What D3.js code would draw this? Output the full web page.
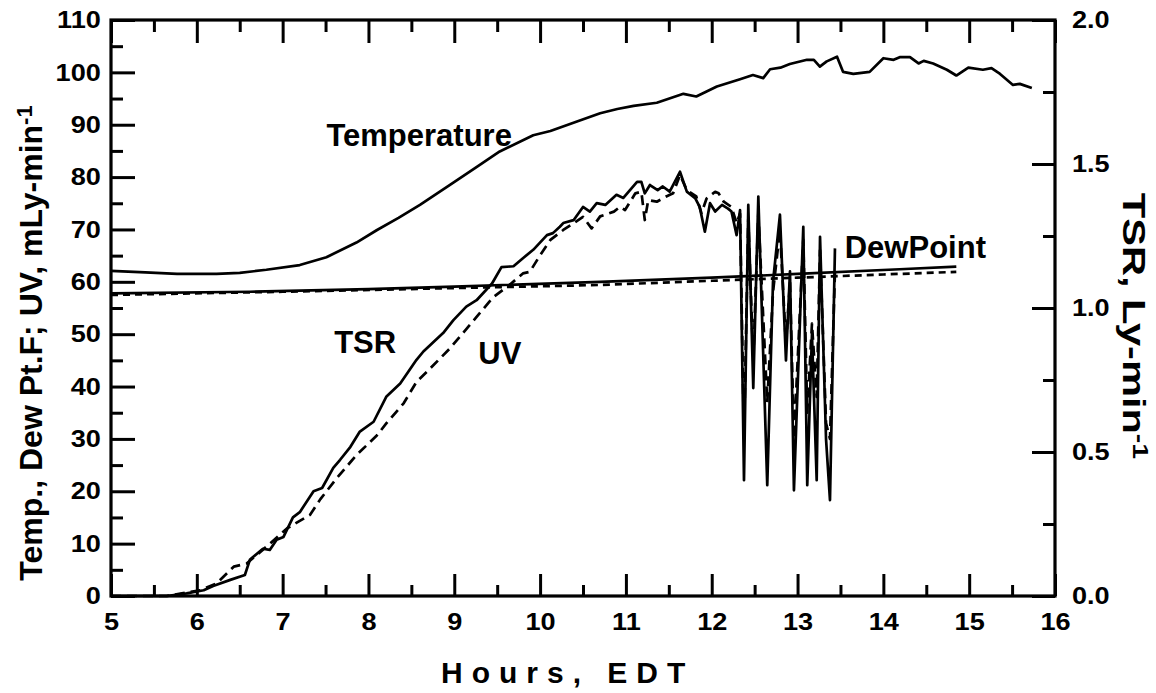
<!DOCTYPE html>
<html>
<head>
<meta charset="utf-8">
<script src="https://cdn.jsdelivr.net/npm/d3@7"></script>
<style>
  html, body { margin: 0; padding: 0; background: #fff; }
  svg { display: block; }
  text { font-family: "Liberation Sans", Arial, Helvetica, sans-serif; font-weight: bold; fill: #000; }
</style>
</head>
<body>
<svg id="chart" width="1156" height="693"></svg>
<script>
// ---------------- DATA ----------------
const xTicks = [5, 6, 7, 8, 9, 10, 11, 12, 13, 14, 15, 16];
const xMinorTicks = [5.5, 6.5, 7.5, 8.5, 9.5, 10.5, 11.5, 12.5, 13.5, 14.5, 15.5];
const yLeftTicks = [0, 10, 20, 30, 40, 50, 60, 70, 80, 90, 100, 110];
const yLeftMinor = [5, 15, 25, 35, 45, 55, 65, 75, 85, 95, 105];
const yRightTicks = [0, 0.5, 1.0, 1.5, 2.0];
const yRightMinor = [0.25, 0.75, 1.25, 1.75];

// Temperature (deg F)
const tempHours = [5.00, 5.40, 5.77, 6.23, 6.50, 6.81, 7.20, 7.51, 7.86, 8.10, 8.35, 8.60, 8.95, 9.25, 9.53, 9.92, 10.12, 10.43, 10.70, 10.90, 11.09, 11.36, 11.67, 11.82, 12.06, 12.33, 12.48, 12.60, 12.68, 12.80, 12.91, 13.11, 13.19, 13.26, 13.34, 13.46, 13.53, 13.65, 13.84, 14.00, 14.12, 14.19, 14.31, 14.41, 14.47, 14.58, 14.74, 14.85, 14.99, 15.16, 15.26, 15.36, 15.51, 15.59, 15.73];
const tempValues = [62.1, 61.8, 61.5, 61.5, 61.7, 62.3, 63.2, 64.7, 67.5, 69.9, 72.2, 74.7, 78.5, 81.8, 84.9, 88.0, 88.8, 90.6, 92.2, 93.0, 93.6, 94.2, 95.9, 95.4, 97.3, 98.7, 99.5, 98.9, 100.6, 100.9, 101.6, 102.4, 102.4, 101.1, 102.1, 103.0, 100.1, 99.7, 100.1, 102.7, 102.4, 102.9, 102.9, 101.7, 102.2, 101.7, 100.5, 99.4, 100.9, 100.5, 100.8, 99.7, 97.6, 97.8, 97.0];

// Dew point (deg F), solid and dashed traces
const dewHours = [5.00, 6.62, 8.00, 9.00, 10.70, 12.00, 13.00, 14.19, 14.85];
const dewValues = [57.8, 58.1, 58.6, 59.1, 60.0, 60.8, 61.5, 62.4, 62.9];
const dew2Hours = [5.00, 7.00, 9.00, 10.70, 12.00, 13.00, 14.00, 14.85];
const dew2Values = [57.5, 58.1, 58.8, 59.4, 60.2, 60.8, 61.4, 61.9];

// TSR (Ly-min-1, right axis)
const tsrHours = [5.00, 5.65, 5.88, 6.08, 6.19, 6.39, 6.56, 6.62, 6.77, 6.85, 6.93, 7.01, 7.12, 7.20, 7.36, 7.46, 7.59, 7.67, 7.79, 7.90, 8.06, 8.21, 8.37, 8.56, 8.64, 8.87, 8.99, 9.14, 9.26, 9.44, 9.55, 9.69, 9.80, 9.92, 10.08, 10.15, 10.23, 10.27, 10.39, 10.50, 10.58, 10.66, 10.76, 10.89, 10.97, 11.13, 11.18, 11.22, 11.28, 11.37, 11.43, 11.51, 11.63, 11.71, 11.81, 11.86, 11.92, 11.98, 12.04, 12.12, 12.19, 12.23, 12.29, 12.33, 12.376, 12.426, 12.484, 12.543, 12.647, 12.714, 12.795, 12.865, 12.912, 12.958, 13.067, 13.113, 13.168, 13.223, 13.262, 13.332, 13.378, 13.436];
const tsrValues = [0, 0, 0.009, 0.020, 0.035, 0.056, 0.073, 0.127, 0.164, 0.160, 0.195, 0.205, 0.273, 0.291, 0.364, 0.375, 0.445, 0.473, 0.518, 0.571, 0.605, 0.693, 0.738, 0.820, 0.849, 0.913, 0.958, 1.005, 1.027, 1.085, 1.142, 1.145, 1.173, 1.202, 1.253, 1.260, 1.282, 1.295, 1.305, 1.351, 1.335, 1.364, 1.358, 1.393, 1.382, 1.438, 1.438, 1.398, 1.427, 1.409, 1.422, 1.404, 1.473, 1.404, 1.380, 1.351, 1.265, 1.364, 1.335, 1.358, 1.345, 1.335, 1.253, 1.340, 0.402, 1.358, 0.722, 1.387, 0.385, 1.091, 1.324, 0.818, 1.127, 0.367, 1.282, 0.385, 0.909, 0.402, 1.247, 0.545, 0.333, 1.207];

// UV (mLy-min-1, left axis)
const uvHours = [5.00, 5.65, 6.04, 6.23, 6.43, 6.58, 6.81, 7.05, 7.32, 7.44, 7.63, 7.86, 8.10, 8.21, 8.41, 8.56, 8.68, 8.95, 9.10, 9.26, 9.45, 9.65, 9.80, 9.88, 9.99, 10.12, 10.27, 10.39, 10.50, 10.60, 10.70, 10.86, 10.93, 10.99, 11.05, 11.11, 11.18, 11.22, 11.26, 11.36, 11.47, 11.55, 11.63, 11.71, 11.82, 11.88, 11.94, 12.04, 12.08, 12.14, 12.23, 12.29, 12.33, 12.376, 12.426, 12.484, 12.543, 12.647, 12.714, 12.795, 12.865, 12.912, 12.958, 13.067, 13.113, 13.168, 13.223, 13.262, 13.332, 13.378, 13.436];
const uvValues = [0, 0, 1.1, 2.4, 5.6, 6.2, 9.4, 12.9, 15.5, 18.5, 22.5, 26.9, 30.7, 33.0, 36.8, 40.9, 42.8, 47.3, 50.2, 53.3, 57.0, 59.5, 61.6, 61.9, 64.8, 68.0, 69.9, 71.2, 72.4, 70.2, 72.5, 73.4, 74.3, 73.7, 75.3, 76.9, 77.2, 71.8, 75.6, 75.3, 76.3, 76.9, 80.4, 77.5, 76.3, 73.1, 75.9, 77.2, 76.9, 75.3, 74.3, 71.2, 73.0, 30, 72, 45, 73, 37, 58, 70, 48, 60, 30, 68, 35, 52, 38, 66, 33, 30, 62];

// Labels
const seriesLabels = [
  { text: "Temperature", h: 7.51, v: 85.9 },
  { text: "TSR", h: 7.60, v: 46.5 },
  { text: "UV", h: 9.28, v: 44.4 },
  { text: "DewPoint", h: 13.55, v: 64.5 }
];

// ---------------- CHART ----------------
const svg = d3.select("#chart");
const L = 111, R = 1055, T = 20, B = 596;
const x = d3.scaleLinear().domain([5, 16]).range([L, R]);
const yL = d3.scaleLinear().domain([0, 110]).range([B, T]);
const yR = d3.scaleLinear().domain([0, 2]).range([B, T]);

const sx = 1.13;
function styleAxis(g) {
  g.select(".domain").remove();
  g.selectAll(".tick line").attr("stroke", "#000").attr("stroke-width", 3);
  g.selectAll(".tick text").attr("font-size", 24).attr("font-weight", "bold")
    .attr("font-family", '"Liberation Sans", Arial, sans-serif')
    .attr("transform", `scale(${sx},1)`);
}

// Bottom axis
svg.append("g").attr("transform", `translate(0,${B})`)
  .call(d3.axisBottom(x).tickValues(xTicks).tickSize(-22).tickSizeOuter(0).tickPadding(17).tickFormat(d3.format("d")))
  .call(styleAxis);
svg.append("g").attr("transform", `translate(0,${B})`)
  .call(d3.axisBottom(x).tickValues(xMinorTicks).tickSize(-11).tickSizeOuter(0).tickFormat(""))
  .call(styleAxis);
// Top axis
svg.append("g").attr("transform", `translate(0,${T})`)
  .call(d3.axisTop(x).tickValues(xTicks).tickSize(-23).tickSizeOuter(0).tickFormat(""))
  .call(styleAxis);
svg.append("g").attr("transform", `translate(0,${T})`)
  .call(d3.axisTop(x).tickValues(xMinorTicks).tickSize(-12).tickSizeOuter(0).tickFormat(""))
  .call(styleAxis);
// Left axis
svg.append("g").attr("transform", `translate(${L},0)`)
  .call(d3.axisLeft(yL).tickValues(yLeftTicks).tickSize(-24).tickSizeOuter(0).tickPadding(9).tickFormat(d3.format("d")))
  .call(styleAxis);
svg.append("g").attr("transform", `translate(${L},0)`)
  .call(d3.axisLeft(yL).tickValues(yLeftMinor).tickSize(-12).tickSizeOuter(0).tickFormat(""))
  .call(styleAxis);
// Right axis
svg.append("g").attr("transform", `translate(${R},0)`)
  .call(d3.axisRight(yR).tickValues(yRightTicks).tickSize(-23).tickSizeOuter(0).tickPadding(15).tickFormat(d3.format(".1f")))
  .call(styleAxis);
svg.append("g").attr("transform", `translate(${R},0)`)
  .call(d3.axisRight(yR).tickValues(yRightMinor).tickSize(-12).tickSizeOuter(0).tickFormat(""))
  .call(styleAxis);

// Frame
svg.append("rect").attr("x", L).attr("y", T).attr("width", R - L).attr("height", B - T)
  .attr("fill", "none").attr("stroke", "#000").attr("stroke-width", 3.2);

// Lines
const plot = svg.append("g");
function addLine(hours, values, yScale, dash) {
  const pts = hours.map((h, i) => [h, values[i]]);
  const line = d3.line().x(d => x(d[0])).y(d => yScale(d[1]));
  plot.append("path").datum(pts).attr("d", line)
    .attr("fill", "none").attr("stroke", "#000").attr("stroke-width", 2.7)
    .attr("stroke-linejoin", "round")
    .attr("stroke-dasharray", dash || null);
}
addLine(tempHours, tempValues, yL);
addLine(dew2Hours, dew2Values, yL, "7,5");
addLine(dewHours, dewValues, yL);
addLine(uvHours, uvValues, yL, "10,6");
addLine(tsrHours, tsrValues, yR);

// Series labels
svg.append("g").selectAll("text").data(seriesLabels).join("text")
  .attr("x", d => x(d.h)).attr("y", d => yL(d.v))
  .attr("font-size", 31).text(d => d.text);

// X title
svg.append("text").attr("x", 441).attr("y", 683)
  .attr("font-size", 30).attr("letter-spacing", 9)
  .text("Hours, EDT");

// Left title
const lt = svg.append("text")
  .attr("transform", "translate(42,343) rotate(-90)")
  .attr("text-anchor", "middle").attr("font-size", 32);
lt.append("tspan").text("Temp., Dew Pt.F; UV, mLy-min");
lt.append("tspan").attr("font-size", 22).attr("dy", -10).text("-1");

// Right title
const rt = svg.append("text")
  .attr("transform", "translate(1123,326) rotate(90) scale(1.3,1)")
  .attr("text-anchor", "middle").attr("font-size", 32);
rt.append("tspan").text("TSR, Ly-min");
rt.append("tspan").attr("font-size", 22).attr("dy", -10).text("-1");
</script>
</body>
</html>
